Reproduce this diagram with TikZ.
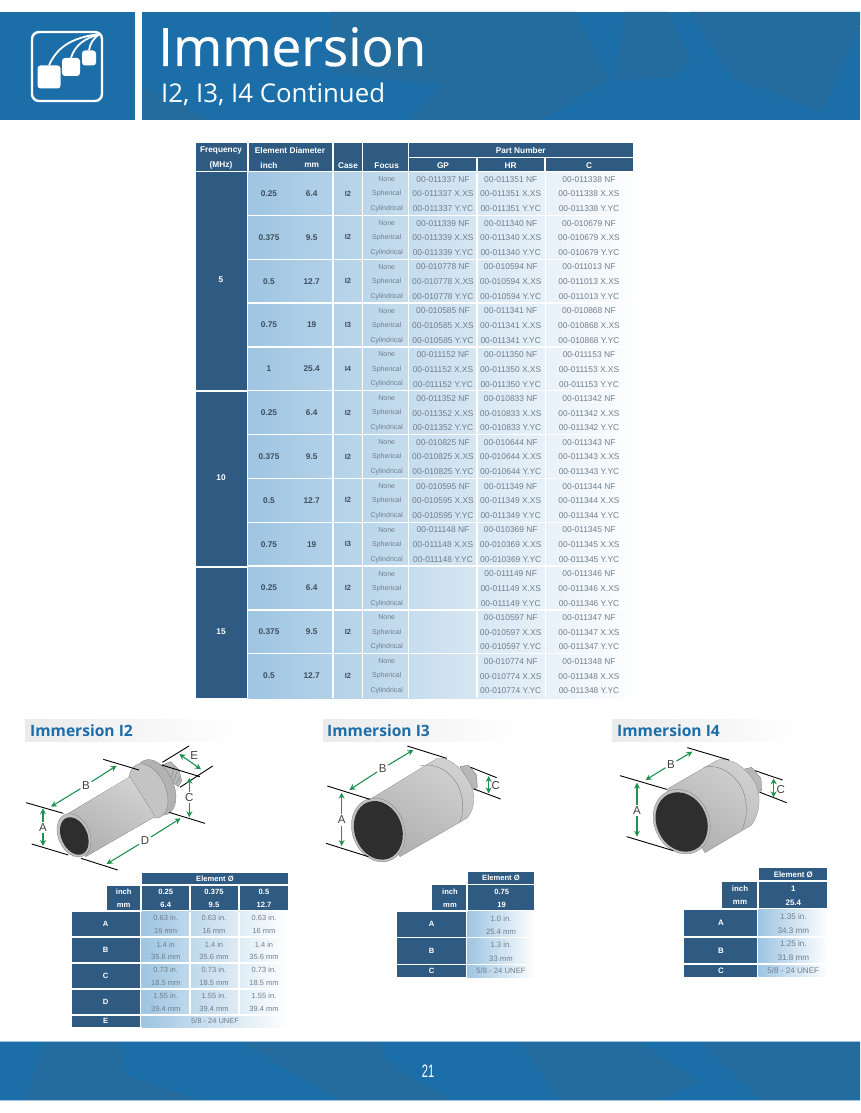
\documentclass[tikz,border=0pt]{standalone}
\usepackage{fontspec}
\usetikzlibrary{arrows.meta}
\setmainfont{Liberation Sans}
\newfontfamily\bannerfont{Open Sans}
\newfontfamily\titlefont[FakeBold=0.5]{Open Sans}
\definecolor{bandblue}{HTML}{1C6EA9}
\definecolor{banddark}{HTML}{246C9E}
\definecolor{navy}{HTML}{2F5A82}
\definecolor{cellblue}{HTML}{9EC5E2}
\definecolor{cellmid}{HTML}{B6D2EA}
\definecolor{numgrey}{HTML}{707E8C}
\definecolor{boldgrey}{HTML}{3E4E5E}
\definecolor{dimgreen}{HTML}{1F9150}
\tikzset{
  txt/.style={inner sep=0pt,font=\fontsize{#1}{10}\selectfont},
  headtxt/.style={txt=8.3,text=white,font=\fontsize{8.3}{10}\selectfont\bfseries},
  minihead/.style={inner sep=0pt,text=white,font=\fontsize{#1}{9}\selectfont\bfseries},
  boldtxt/.style={txt=8.3,text=boldgrey,font=\fontsize{8.3}{10}\selectfont\bfseries},
  partnum/.style={txt=8.4,text=numgrey},
  focustxt/.style={txt=7,text=numgrey},
  sectitle/.style={inner sep=0pt,anchor=base west,text=bandblue,font=\bannerfont\fontsize{15.6}{18}\selectfont\bfseries},
  seclabel/.style={inner sep=1.5pt,text=black!75,font=\fontsize{11.5}{12}\selectfont},
  dimline/.style={black,line width=.9pt},
  dimarrow/.style={dimgreen,line width=1.1pt,-{Stealth[length=6pt,width=6pt]}},
  dimboth/.style={dimgreen,line width=1.1pt,{Stealth[length=6pt,width=6pt]}-{Stealth[length=6pt,width=6pt]}},
  facet/.style={banddark},
  tube/.style={shading=axis,top color=black!18,bottom color=black!31,shading angle=-30},
  flange/.style={fill=black!30,draw=black!50,line width=.3pt},
  thread/.style={fill=black!28,draw=black!55,line width=.3pt},
  ridge/.style={black!50,line width=.4pt},
  iconbox/.style={fill=white,rounded corners=3pt,inner sep=0pt}
}
\begin{document}
\begin{tikzpicture}[x=1pt,y=-1pt]
\useasboundingbox (0,0) rectangle (860,1113);

% header bands
\fill[bandblue] (0,12) rectangle (135,120);
\fill[bandblue] (142,12) rectangle (860,120);
\fill[facet] (400,12) -- (575,12) -- (610,80) -- (540,120) -- (410,120) -- (440,85) -- (330,72) -- (330,12) -- cycle;
\fill[facet] (625,12) -- (668,12) -- (690,60) -- (672,78) -- (615,80) -- cycle;
\fill[facet] (690,12) -- (860,12) -- (860,25) -- (822,112) -- (760,88) -- (735,80) -- cycle;
\fill[facet] (142,85) -- (210,120) -- (142,120) -- cycle;

\node[sectitle,text=white,font=\titlefont\fontsize{53}{55}\selectfont] (title) at (158,66) {Immersion};
\node[sectitle,text=white,font=\bannerfont\fontsize{25.8}{28}\selectfont] (subtitle) at (161,103) {I2, I3, I4 Continued};

% icon
\draw[white,line width=2.4pt,rounded corners=7pt] (32,32) rectangle (102,101);
\node[iconbox,minimum width=23pt,minimum height=23pt] (bigbox) at (49,77) {};
\node[iconbox,minimum width=18pt,minimum height=18pt] (midbox) at (71,67) {};
\node[iconbox,minimum width=14pt,minimum height=15pt] (smallbox) at (89,58) {};
\coordinate (corner) at (100,34);
\draw[white,line width=1.8pt] (corner) .. controls (75,37) and (58,45) .. (bigbox.north);
\draw[white,line width=1.8pt] (corner) .. controls (85,38) and (75,45) .. (midbox.north);
\draw[white,line width=1.8pt] (corner) .. controls (93,38) and (90,44) .. (smallbox.north);

% main table
\fill[navy] (196,143) rectangle (247.3,171);
\fill[navy] (248.6,143) rectangle (332.3,171);
\fill[navy] (333.8,143) rectangle (361.8,171);
\fill[navy] (363.4,143) rectangle (408,171);
\fill[navy] (409.3,143) rectangle (632.7,156.6);
\fill[navy] (409.3,157.8) rectangle (476,171);
\fill[navy] (477.6,157.8) rectangle (544.3,171);
\fill[navy] (546,157.8) rectangle (632.7,171);
\node[headtxt] (freqhead) at (221,151) {Frequency};
\node[headtxt] (mhzhead) at (221,165.7) {(MHz)};
\node[headtxt] (diahead) at (290,151) {Element Diameter};
\node[headtxt] (inchhead) at (269,165.7) {inch};
\node[headtxt] (mmhead) at (311.7,165.7) {mm};
\node[headtxt] (casehead) at (348,165.7) {Case};
\node[headtxt] (focushead) at (386.7,165.7) {Focus};
\node[headtxt] (parthead) at (520.7,151) {Part Number};
\node[headtxt] (gphead) at (443,165.7) {GP};
\node[headtxt] (hrhead) at (510.7,165.7) {HR};
\node[headtxt] (chead) at (589,165.7) {C};

\fill[navy] (196,172) rectangle (247.3,390.4);
\fill[navy] (196,391.6) rectangle (247.3,566.4);
\fill[navy] (196,567.6) rectangle (247.3,698);
\node[headtxt] (freqa) at (221,280) {5};
\node[headtxt] (freqb) at (221,478) {10};
\node[headtxt] (freqc) at (221,632) {15};

\shade[left color=cellblue,middle color=cellmid,right color=white] (248.6,172) rectangle (640,698);
\foreach \x in {333,362.6,408.6,476.8,545.2}
  \draw[white,line width=1.4pt] (\x,172) -- (\x,698);
\foreach \r in {1,...,11}
  \draw[white,line width=1.3pt] (248,172+43.83*\r-.4) -- (640,172+43.83*\r-.4);

\foreach \inchv/\mmv/\casev/\hrv/\cv [count=\r from 0] in {
  0.25/6.4/I2/011351/011338, 0.375/9.5/I2/011340/010679,
  0.5/12.7/I2/010594/011013, 0.75/19/I3/011341/010868,
  1/25.4/I4/011350/011153, 0.25/6.4/I2/010833/011342,
  0.375/9.5/I2/010644/011343, 0.5/12.7/I2/011349/011344,
  0.75/19/I3/010369/011345, 0.25/6.4/I2/011149/011346,
  0.375/9.5/I2/010597/011347, 0.5/12.7/I2/010774/011348}
{
  \pgfmathsetmacro\ytop{172+43.83*\r}
  \node[boldtxt] (inch\r) at (269,\ytop+21.5) {\inchv};
  \node[boldtxt] (mm\r) at (311.7,\ytop+21.5) {\mmv};
  \node[boldtxt,font=\fontsize{7.5}{9}\selectfont\bfseries] (case\r) at (348,\ytop+21.5) {\casev};
  \foreach \foc/\suf/\dy [count=\k] in {None/NF/7.3,Spherical/X.XS/22,Cylindrical/Y.YC/36.8} {
    \node[focustxt] (focus\r-\k) at (386.7,\ytop+\dy) {\foc};
    \node[partnum] (hr\r-\k) at (510.7,\ytop+\dy) {00-\hrv{} \suf};
    \node[partnum] (c\r-\k) at (589,\ytop+\dy) {00-\cv{} \suf};
  }
}
\foreach \gpv [count=\r from 0] in {011337,011339,010778,010585,011152,011352,010825,010595,011148} {
  \pgfmathsetmacro\ytop{172+43.83*\r}
  \foreach \suf/\dy [count=\k] in {NF/7.3,X.XS/22,Y.YC/36.8}
    \node[partnum] (gp\r-\k) at (443,\ytop+\dy) {00-\gpv{} \suf};
}

% section titles
\shade[left color=black!8,right color=white] (25,719) rectangle (240,741);
\shade[left color=black!8,right color=white] (323,719) rectangle (520,741);
\shade[left color=black!8,right color=white] (612,719) rectangle (800,741);
\node[sectitle] (seca) at (30,736.5) {Immersion I2};
\node[sectitle] (secb) at (327,736.5) {Immersion I3};
\node[sectitle] (secc) at (617,736.5) {Immersion I4};

% I2 drawing
\begin{scope}[shift={(15,710)},x=.3333pt,y=-.3333pt]
  \draw[thread] (440,165) -- (468,155) -- (492,180) -- (500,212) -- (490,230) -- (470,215) -- cycle;
  \foreach \s in {0,8,16}
    \draw[ridge] (478+\s,168+\s*2) -- (470+\s*.9,200+\s*1.4);
  \draw[flange] (422,232) circle[x radius=54,y radius=88,rotate=24];
  \draw[flange,fill=black!23] (400,243) circle[x radius=52,y radius=86,rotate=24];
  \fill[tube] (150,316) -- (345,200) -- (420,320) -- (212,440) -- cycle;
  \draw[fill=black!25,draw=black!50,line width=.3pt] (177,376) circle[x radius=47,y radius=68,rotate=24];
  \fill[black!82] (178,378) circle[x radius=39,y radius=59,rotate=24];
  \draw[dimline] (33,278) -- (145,310);
  \draw[dimline] (50,402) -- (160,435);
  \draw[dimline] (265,148) -- (372,180);
  \draw[dimline] (462,307) -- (570,340);
  \draw[dimline] (198,445) -- (308,480);
  \draw[dimline] (442,157) -- (522,108);
  \draw[dimline] (495,232) -- (593,168);
  \draw[dimline] (440,165) -- (555,200);
  \node[seclabel] (dimAa) at (84,352) {A};
  \coordinate (aup) at (84,295);
  \coordinate (adown) at (84,408);
  \draw[dimarrow] (dimAa) -- (aup);
  \draw[dimarrow] (dimAa) -- (adown);
  \node[seclabel] (dimBa) at (213,226) {B};
  \coordinate (bup) at (305,167);
  \coordinate (bdown) at (108,290);
  \draw[dimarrow] (dimBa) -- (bup);
  \draw[dimarrow] (dimBa) -- (bdown);
  \node[seclabel] (dimCa) at (523,262) {C};
  \coordinate (cup) at (523,203);
  \coordinate (cdown) at (523,322);
  \draw[dimarrow] (dimCa) -- (cup);
  \draw[dimarrow] (dimCa) -- (cdown);
  \node[seclabel] (dimDa) at (390,392) {D};
  \coordinate (dup) at (497,325);
  \coordinate (ddown) at (275,462);
  \draw[dimarrow] (dimDa) -- (dup);
  \draw[dimarrow] (dimDa) -- (ddown);
  \node[seclabel] (dimEa) at (538,137) {E};
  \coordinate (eup) at (493,132);
  \coordinate (edown) at (558,178);
  \draw[dimboth] (eup) -- (edown);
\end{scope}

% I3 drawing
\begin{scope}[shift={(320,710)},x=.3333pt,y=-.3333pt]
  \draw[thread] (420,170) -- (445,165) -- (470,195) -- (472,232) -- (462,240) -- cycle;
  \draw[tube,draw=black!45,line width=.3pt] (150,268) -- (352,145) .. controls (385,140) and (420,170) .. (445,210)
    .. controls (470,250) and (465,300) .. (440,325) -- (240,440) -- cycle;
  \draw[ridge] (300,168) .. controls (350,155) and (400,190) .. (420,240) .. controls (432,275) and (430,315) .. (420,335);
  \draw[fill=black!25,draw=black!50,line width=.3pt] (175,360) circle[x radius=78,y radius=98,rotate=20];
  \fill[black!82] (175,361) circle[x radius=71,y radius=90,rotate=20];
  \draw[dimline] (22,228) -- (150,268);
  \draw[dimline] (18,400) -- (145,440);
  \draw[dimline] (262,108) -- (380,145);
  \draw[dimline] (452,172) -- (530,203);
  \draw[dimline] (462,237) -- (542,267);
  \node[seclabel] (dimAb) at (65,330) {A};
  \coordinate (aupb) at (65,248);
  \coordinate (adownb) at (65,408);
  \draw[dimarrow] (dimAb) -- (aupb);
  \draw[dimarrow] (dimAb) -- (adownb);
  \node[seclabel] (dimBb) at (188,175) {B};
  \coordinate (bupb) at (280,120);
  \coordinate (bdownb) at (88,240);
  \draw[dimarrow] (dimBb) -- (bupb);
  \draw[dimarrow] (dimBb) -- (bdownb);
  \node[seclabel] (dimCb) at (527,228) {C};
  \coordinate (cupb) at (506,198);
  \coordinate (cdownb) at (506,250);
  \draw[dimboth] (cupb) -- (cdownb);
\end{scope}

% I4 drawing
\begin{scope}[shift={(605,710)},x=.3333pt,y=-.3333pt]
  \draw[thread] (415,178) -- (440,172) -- (468,205) -- (470,240) -- (460,250) -- cycle;
  \draw[tube,draw=black!45,line width=.3pt] (185,238) -- (338,150) .. controls (375,140) and (420,170) .. (445,210)
    .. controls (472,250) and (465,310) .. (440,345) -- (300,428) -- cycle;
  \draw[ridge] (295,172) .. controls (345,160) and (395,195) .. (415,245) .. controls (430,285) and (425,335) .. (410,360);
  \draw[fill=black!25,draw=black!50,line width=.3pt] (230,335) circle[x radius=82,y radius=100,rotate=25];
  \fill[black!82] (230,336) circle[x radius=75,y radius=92,rotate=25];
  \draw[dimline] (45,197) -- (185,238);
  \draw[dimline] (65,380) -- (205,422);
  \draw[dimline] (247,113) -- (372,150);
  \draw[dimline] (450,182) -- (533,210);
  \draw[dimline] (465,247) -- (545,278);
  \node[seclabel] (dimAc) at (96,302) {A};
  \coordinate (aupc) at (96,218);
  \coordinate (adownc) at (96,380);
  \draw[dimarrow] (dimAc) -- (aupc);
  \draw[dimarrow] (dimAc) -- (adownc);
  \node[seclabel] (dimBc) at (198,163) {B};
  \coordinate (bupc) at (262,125);
  \coordinate (bdownc) at (122,210);
  \draw[dimarrow] (dimBc) -- (bupc);
  \draw[dimarrow] (dimBc) -- (bdownc);
  \node[seclabel] (dimCc) at (527,240) {C};
  \coordinate (cupc) at (506,205);
  \coordinate (cdownc) at (506,262);
  \draw[dimboth] (cupc) -- (cdownc);
\end{scope}

% I2 table
\fill[navy] (141.7,872.7) rectangle (287.7,884);
\fill[navy] (106.7,885.7) rectangle (140.3,910);
\foreach \x/\w in {141.7/189,190.7/238.3,240/287.7}
  \fill[navy] (\x,885.7) rectangle (\w,910);
\foreach \t in {911.7,937.7,963.7,989.7}
  \fill[navy] (71.7,\t) rectangle (140.3,\t+24.3);
\fill[navy] (71.7,1015.7) rectangle (140.3,1027);
\shade[left color=cellblue,right color=white] (141.7,911.7) rectangle (288,1027);
\foreach \x in {190,239.2}
  \draw[white,line width=1.5pt] (\x,911.7) -- (\x,1015);
\foreach \t in {936.8,962.8,988.8,1014.8}
  \draw[white,line width=1.5pt] (141,\t) -- (288,\t);
\node[minihead=7.6] (elema) at (215,879) {Element Ø};
\node[minihead=7.6] (incha) at (123.7,892) {inch};
\node[minihead=7.6] (mma) at (123.7,905) {mm};
\foreach \i/\m/\x [count=\k] in {0.25/6.4/165.7,0.375/9.5/214,0.5/12.7/264} {
  \node[minihead=7.6] (ia\k) at (\x,892) {\i};
  \node[minihead=7.6] (ma\k) at (\x,905) {\m};
}
\foreach \lab/\t/\one/\two [count=\k] in {A/911.7/0.63 in./16 mm,B/937.7/1.4 in/35.6 mm,C/963.7/0.73 in./18.5 mm,D/989.7/1.55 in./39.4 mm} {
  \node[minihead=7.6] (laba\k) at (105.7,\t+12) {\lab};
  \foreach \x [count=\j] in {165.7,214,264} {
    \node[partnum,txt=7.5] (vala\k-\j) at (\x,\t+6.6) {\one};
    \node[partnum,txt=7.5] (valb\k-\j) at (\x,\t+19.4) {\two};
  }
}
\node[minihead=7.6] (labae) at (105.7,1021) {E};
\node[partnum,txt=7.5] (unefa) at (215,1021) {5/8 - 24 UNEF};

% I3 table
\fill[navy] (467.7,871.7) rectangle (534.3,883.7);
\fill[navy] (432,885) rectangle (466.3,910);
\fill[navy] (467.7,885) rectangle (534.3,910);
\fill[navy] (396.7,911.7) rectangle (466.3,936.7);
\fill[navy] (396.7,938.3) rectangle (466.3,963.7);
\fill[navy] (396.7,965) rectangle (466.3,977.3);
\shade[left color=cellblue,right color=white] (467.7,911.7) rectangle (535,977.3);
\foreach \t in {937.5,964.3}
  \draw[white,line width=1.4pt] (467,\t) -- (535,\t);
\node[minihead=7.6] (elemb) at (501,878.3) {Element Ø};
\node[minihead=7.6] (inchb) at (450,891.7) {inch};
\node[minihead=7.6] (mmb) at (450,905.3) {mm};
\node[minihead=7.6] (ib) at (501.7,891.7) {0.75};
\node[minihead=7.6] (mb) at (501.7,905.3) {19};
\node[minihead=7.6] (labba) at (431.7,924) {A};
\node[minihead=7.6] (labbb) at (431.7,951) {B};
\node[minihead=7.6] (labbc) at (431.7,971) {C};
\node[partnum,txt=7.7] (valb1) at (501,918.3) {1.0 in.};
\node[partnum,txt=7.7] (valb2) at (501,931.7) {25.4 mm};
\node[partnum,txt=7.7] (valb3) at (501,945) {1.3 in.};
\node[partnum,txt=7.7] (valb4) at (501,959) {33 mm};
\node[partnum,txt=7.7] (unefb) at (501,971) {5/8 - 24 UNEF};

% I4 table
\fill[navy] (758.7,868.3) rectangle (827.3,880);
\fill[navy] (721.7,881.7) rectangle (757.3,908.3);
\fill[navy] (758.7,881.7) rectangle (827.3,908.3);
\fill[navy] (684.3,909.7) rectangle (757.3,936);
\fill[navy] (684.3,937.7) rectangle (757.3,963.3);
\fill[navy] (684.3,965) rectangle (757.3,976.7);
\shade[left color=cellblue,right color=white] (758.7,909.7) rectangle (828,976.7);
\foreach \t in {936.9,964.1}
  \draw[white,line width=1.4pt] (758,\t) -- (828,\t);
\node[minihead=7.9] (elemc) at (793.3,875) {Element Ø};
\node[minihead=7.9] (inchc) at (740,889) {inch};
\node[minihead=7.9] (mmc) at (740,902.7) {mm};
\node[minihead=7.9] (ic) at (793.3,889) {1};
\node[minihead=7.9] (mc) at (793.3,902.7) {25.4};
\node[minihead=7.9] (labca) at (721,923) {A};
\node[minihead=7.9] (labcb) at (721,950.5) {B};
\node[minihead=7.9] (labcc) at (721,971) {C};
\node[partnum,txt=8.1] (valc1) at (793.3,916.7) {1.35 in.};
\node[partnum,txt=8.1] (valc2) at (793.3,930.7) {34.3 mm};
\node[partnum,txt=8.1] (valc3) at (793.3,944) {1.25 in.};
\node[partnum,txt=8.1] (valc4) at (793.3,958) {31.8 mm};
\node[partnum,txt=8.1] (unefc) at (793.3,971) {5/8 - 24 UNEF};

% footer band
\fill[bandblue] (0,1042) rectangle (860,1100);
\fill[facet] (25,1100) -- (45,1042) -- (120,1042) -- (125,1075) -- (200,1100) -- cycle;
\fill[facet] (240,1042) -- (380,1042) -- (385,1060) -- (450,1100) -- (340,1100) -- cycle;
\fill[facet] (520,1042) -- (640,1042) -- (700,1082) -- (655,1100) -- (560,1100) -- cycle;
\fill[facet] (700,1042) -- (860,1042) -- (860,1100) -- (760,1100) -- cycle;
\draw[cellblue,line width=1pt] (0,1041.6) -- (860,1041.6);
\draw[cellblue,line width=1.2pt] (0,1100.4) -- (860,1100.4);
\node[inner sep=0pt,text=white,font=\fontsize{18}{20}\selectfont] (pagenum) at (428,1071) {\scalebox{.62}[1]{21}};
\end{tikzpicture}
\end{document}
